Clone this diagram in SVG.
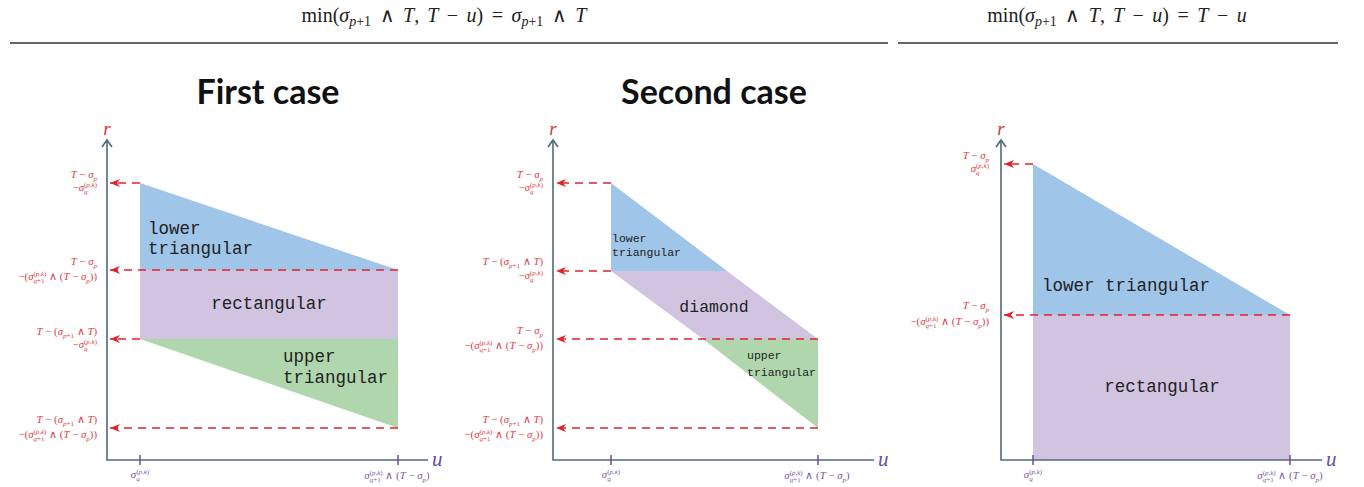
<svg xmlns="http://www.w3.org/2000/svg" width="1364" height="487" viewBox="0 0 1364 487">
<style>
.hd{font-family:"Liberation Serif",serif;font-size:20px;fill:#222}
.i{font-style:italic}
.w{font-family:"DejaVu Sans",sans-serif;font-weight:200;font-style:normal}
.lb{font-family:"Liberation Serif",serif;font-size:10.8px;fill:#e03a48;text-anchor:end}
.xl{font-family:"Liberation Serif",serif;font-size:10.8px;fill:#7a5aa8;text-anchor:middle}
.s{font-size:7px}
.mono{font-family:"Liberation Mono",monospace;fill:#222}
.title{font-family:Lato,sans-serif;font-weight:bold;font-size:34px;fill:#111;text-anchor:middle}
.axis{stroke:#50697b;stroke-width:1.6;fill:none}
.tick{stroke:#6a4c9c;stroke-width:1.5}
.dash{stroke:#e0232d;stroke-width:1.4;stroke-dasharray:8 6;fill:none;marker-end:url(#ah)}
.blue{fill:#9fc5e8}.purple{fill:#d0c4e1}.green{fill:#b0d6ae}
.rl{font-family:"Liberation Serif",serif;font-style:italic;font-size:19px;fill:#d9323e;text-anchor:middle}
.ul{font-family:"Liberation Serif",serif;font-style:italic;font-size:21px;fill:#6a4c9c}
.rule{stroke:#333;stroke-width:1.6}
</style>
<defs>
<marker id="ah" viewBox="0 0 10 8" refX="10" refY="4" markerWidth="10" markerHeight="8" markerUnits="userSpaceOnUse" orient="auto">
<path d="M0,0 L10,4 L0,8 L3,4 Z" fill="#e0232d"/>
</marker>
</defs>

<g id="header">
<text class="hd" x="444" y="22" text-anchor="middle">min(<tspan class="i">σ</tspan><tspan font-size="14" dy="4"><tspan class="i">p</tspan>+1</tspan><tspan dy="-4" dx="3.5"> </tspan><tspan class="w">∧</tspan><tspan dx="3.5"> </tspan><tspan class="i">T</tspan>,<tspan dx="3"> </tspan><tspan class="i">T</tspan><tspan dx="3.5"> </tspan>−<tspan dx="3.5"> </tspan><tspan class="i">u</tspan>)<tspan dx="3.5"> </tspan>=<tspan dx="3.5"> </tspan><tspan class="i">σ</tspan><tspan font-size="14" dy="4"><tspan class="i">p</tspan>+1</tspan><tspan dy="-4" dx="3.5"> </tspan><tspan class="w">∧</tspan><tspan dx="3.5"> </tspan><tspan class="i">T</tspan></text>
<line class="rule" x1="10" y1="43" x2="888" y2="43"/>
<text class="hd" x="1117" y="22" text-anchor="middle">min(<tspan class="i">σ</tspan><tspan font-size="14" dy="4"><tspan class="i">p</tspan>+1</tspan><tspan dy="-4" dx="3.5"> </tspan><tspan class="w">∧</tspan><tspan dx="3.5"> </tspan><tspan class="i">T</tspan>,<tspan dx="3"> </tspan><tspan class="i">T</tspan><tspan dx="3.5"> </tspan>−<tspan dx="3.5"> </tspan><tspan class="i">u</tspan>)<tspan dx="3.5"> </tspan>=<tspan dx="3.5"> </tspan><tspan class="i">T</tspan><tspan dx="3.5"> </tspan>−<tspan dx="3.5"> </tspan><tspan class="i">u</tspan></text>
<line class="rule" x1="898" y1="43" x2="1338" y2="43"/>
</g>

<!-- Panel 1 -->
<g id="panel1">
<text class="title" x="268" y="104">First case</text>
<g id="p1-lower"><polygon class="blue" points="140,183 398,270 140,270"/><text class="mono" font-size="17.5" x="148" y="234">lower</text><text class="mono" font-size="17.5" x="148" y="254">triangular</text></g>
<g id="p1-rect"><rect class="purple" x="140" y="270" width="258" height="69"/><text class="mono" font-size="17.5" x="269" y="309" text-anchor="middle">rectangular</text></g>
<g id="p1-upper"><polygon class="green" points="140,339 398,339 398,428"/><text class="mono" font-size="17.5" x="283" y="362">upper</text><text class="mono" font-size="17.5" x="283" y="383">triangular</text></g>
<g id="p1-axes">
<path class="axis" d="M107,140 V460 H428"/>
<path class="axis" d="M102,147 L107,140 L112,147"/>
<line class="tick" x1="140" y1="455" x2="140" y2="465"/>
<line class="tick" x1="398" y1="455" x2="398" y2="465"/>
<text class="rl" x="107" y="135">r</text>
<text class="ul" x="432" y="466">u</text>
</g>
<g id="p1-labels">
<text class="lb" x="97" y="178"><tspan class="i">T</tspan> − <tspan class="i">σ</tspan><tspan class="s i" dy="2.5">p</tspan></text>
<text class="lb" x="97" y="191">−<tspan class="i">σ</tspan><tspan class="s i" dy="2.5">q</tspan><tspan class="s" dx="-3.5" dy="-7">(<tspan class="i">p</tspan>,<tspan class="i">k</tspan>)</tspan></text>
<text class="lb" x="97" y="265"><tspan class="i">T</tspan> − <tspan class="i">σ</tspan><tspan class="s i" dy="2.5">p</tspan></text>
<text class="lb" x="97" y="280">−(<tspan class="i">σ</tspan><tspan class="s" dy="2.5"><tspan class="i">q</tspan>+1</tspan><tspan class="s" dx="-11" dy="-7">(<tspan class="i">p</tspan>,<tspan class="i">k</tspan>)</tspan><tspan dy="4.5"> <tspan class="w">∧</tspan> (<tspan class="i">T</tspan> − <tspan class="i">σ</tspan></tspan><tspan class="s i" dy="2.5">p</tspan><tspan dy="-2.5">))</tspan></text>
<text class="lb" x="97" y="335"><tspan class="i">T</tspan> − (<tspan class="i">σ</tspan><tspan class="s" dy="2.5"><tspan class="i">p</tspan>+1</tspan><tspan dy="-2.5"> <tspan class="w">∧</tspan> <tspan class="i">T</tspan>)</tspan></text>
<text class="lb" x="97" y="348">−<tspan class="i">σ</tspan><tspan class="s i" dy="2.5">q</tspan><tspan class="s" dx="-3.5" dy="-7">(<tspan class="i">p</tspan>,<tspan class="i">k</tspan>)</tspan></text>
<text class="lb" x="97" y="423"><tspan class="i">T</tspan> − (<tspan class="i">σ</tspan><tspan class="s" dy="2.5"><tspan class="i">p</tspan>+1</tspan><tspan dy="-2.5"> <tspan class="w">∧</tspan> <tspan class="i">T</tspan>)</tspan></text>
<text class="lb" x="97" y="438">−(<tspan class="i">σ</tspan><tspan class="s" dy="2.5"><tspan class="i">q</tspan>+1</tspan><tspan class="s" dx="-11" dy="-7">(<tspan class="i">p</tspan>,<tspan class="i">k</tspan>)</tspan><tspan dy="4.5"> <tspan class="w">∧</tspan> (<tspan class="i">T</tspan> − <tspan class="i">σ</tspan></tspan><tspan class="s i" dy="2.5">p</tspan><tspan dy="-2.5">))</tspan></text>
<text class="xl" x="140" y="478"><tspan class="i">σ</tspan><tspan class="s i" dy="2.5">q</tspan><tspan class="s" dx="-3.5" dy="-7">(<tspan class="i">p</tspan>,<tspan class="i">k</tspan>)</tspan></text>
<text class="xl" x="397" y="479"><tspan class="i">σ</tspan><tspan class="s" dy="2.5"><tspan class="i">q</tspan>+1</tspan><tspan class="s" dx="-11" dy="-7">(<tspan class="i">p</tspan>,<tspan class="i">k</tspan>)</tspan><tspan dy="4.5"> <tspan class="w">∧</tspan> (<tspan class="i">T</tspan> − <tspan class="i">σ</tspan></tspan><tspan class="s i" dy="2.5">p</tspan><tspan dy="-2.5">)</tspan></text>
</g>
</g>

<!-- Panel 2 -->
<g id="panel2">
<text class="title" x="714" y="104">Second case</text>
<g id="p2-lower"><polygon class="blue" points="611,183 727,271 611,271"/><text class="mono" font-size="11.5" x="612" y="242">lower</text><text class="mono" font-size="11.5" x="612" y="255.5">triangular</text></g>
<g id="p2-diamond"><polygon class="purple" points="611,271 727,271 818,339 703,339"/><text class="mono" font-size="16.5" x="714" y="312" text-anchor="middle">diamond</text></g>
<g id="p2-upper"><polygon class="green" points="703,339 818,339 818,428"/><text class="mono" font-size="11.5" x="747" y="359">upper</text><text class="mono" font-size="11.5" x="747" y="376">triangular</text></g>
<g id="p2-axes">
<path class="axis" d="M553,140 V460 H874"/>
<path class="axis" d="M548,147 L553,140 L558,147"/>
<line class="tick" x1="611" y1="455" x2="611" y2="465"/>
<line class="tick" x1="818" y1="455" x2="818" y2="465"/>
<text class="rl" x="553" y="135">r</text>
<text class="ul" x="878" y="466">u</text>
</g>
<g id="p2-labels">
<text class="lb" x="543" y="178"><tspan class="i">T</tspan> − <tspan class="i">σ</tspan><tspan class="s i" dy="2.5">p</tspan></text>
<text class="lb" x="543" y="191">−<tspan class="i">σ</tspan><tspan class="s i" dy="2.5">q</tspan><tspan class="s" dx="-3.5" dy="-7">(<tspan class="i">p</tspan>,<tspan class="i">k</tspan>)</tspan></text>
<text class="lb" x="543" y="265"><tspan class="i">T</tspan> − (<tspan class="i">σ</tspan><tspan class="s" dy="2.5"><tspan class="i">p</tspan>+1</tspan><tspan dy="-2.5"> <tspan class="w">∧</tspan> <tspan class="i">T</tspan>)</tspan></text>
<text class="lb" x="543" y="279">−<tspan class="i">σ</tspan><tspan class="s i" dy="2.5">q</tspan><tspan class="s" dx="-3.5" dy="-7">(<tspan class="i">p</tspan>,<tspan class="i">k</tspan>)</tspan></text>
<text class="lb" x="543" y="334"><tspan class="i">T</tspan> − <tspan class="i">σ</tspan><tspan class="s i" dy="2.5">p</tspan></text>
<text class="lb" x="543" y="349">−(<tspan class="i">σ</tspan><tspan class="s" dy="2.5"><tspan class="i">q</tspan>+1</tspan><tspan class="s" dx="-11" dy="-7">(<tspan class="i">p</tspan>,<tspan class="i">k</tspan>)</tspan><tspan dy="4.5"> <tspan class="w">∧</tspan> (<tspan class="i">T</tspan> − <tspan class="i">σ</tspan></tspan><tspan class="s i" dy="2.5">p</tspan><tspan dy="-2.5">))</tspan></text>
<text class="lb" x="543" y="423"><tspan class="i">T</tspan> − (<tspan class="i">σ</tspan><tspan class="s" dy="2.5"><tspan class="i">p</tspan>+1</tspan><tspan dy="-2.5"> <tspan class="w">∧</tspan> <tspan class="i">T</tspan>)</tspan></text>
<text class="lb" x="543" y="438">−(<tspan class="i">σ</tspan><tspan class="s" dy="2.5"><tspan class="i">q</tspan>+1</tspan><tspan class="s" dx="-11" dy="-7">(<tspan class="i">p</tspan>,<tspan class="i">k</tspan>)</tspan><tspan dy="4.5"> <tspan class="w">∧</tspan> (<tspan class="i">T</tspan> − <tspan class="i">σ</tspan></tspan><tspan class="s i" dy="2.5">p</tspan><tspan dy="-2.5">))</tspan></text>
<text class="xl" x="611" y="478"><tspan class="i">σ</tspan><tspan class="s i" dy="2.5">q</tspan><tspan class="s" dx="-3.5" dy="-7">(<tspan class="i">p</tspan>,<tspan class="i">k</tspan>)</tspan></text>
<text class="xl" x="817" y="479"><tspan class="i">σ</tspan><tspan class="s" dy="2.5"><tspan class="i">q</tspan>+1</tspan><tspan class="s" dx="-11" dy="-7">(<tspan class="i">p</tspan>,<tspan class="i">k</tspan>)</tspan><tspan dy="4.5"> <tspan class="w">∧</tspan> (<tspan class="i">T</tspan> − <tspan class="i">σ</tspan></tspan><tspan class="s i" dy="2.5">p</tspan><tspan dy="-2.5">)</tspan></text>
</g>
</g>

<!-- Panel 3 -->
<g id="panel3">
<g id="p3-lower"><polygon class="blue" points="1033,164 1290,315 1033,315"/><text class="mono" font-size="17.5" x="1126" y="291" text-anchor="middle">lower triangular</text></g>
<g id="p3-rect"><rect class="purple" x="1033" y="315" width="257" height="145"/><text class="mono" font-size="17.5" x="1162" y="392" text-anchor="middle">rectangular</text></g>
<g id="p3-axes">
<path class="axis" d="M1001,140 V460 H1322"/>
<path class="axis" d="M996,147 L1001,140 L1006,147"/>
<line class="tick" x1="1033" y1="455" x2="1033" y2="465"/>
<line class="tick" x1="1290" y1="455" x2="1290" y2="465"/>
<text class="rl" x="1001" y="135">r</text>
<text class="ul" x="1326" y="466">u</text>
</g>
<g id="p3-labels">
<text class="lb" x="989" y="159"><tspan class="i">T</tspan> − <tspan class="i">σ</tspan><tspan class="s i" dy="2.5">p</tspan></text>
<text class="lb" x="989" y="172"><tspan class="i">σ</tspan><tspan class="s i" dy="2.5">q</tspan><tspan class="s" dx="-3.5" dy="-7">(<tspan class="i">p</tspan>,<tspan class="i">k</tspan>)</tspan></text>
<text class="lb" x="989" y="309"><tspan class="i">T</tspan> − <tspan class="i">σ</tspan><tspan class="s i" dy="2.5">p</tspan></text>
<text class="lb" x="989" y="325">−(<tspan class="i">σ</tspan><tspan class="s" dy="2.5"><tspan class="i">q</tspan>+1</tspan><tspan class="s" dx="-11" dy="-7">(<tspan class="i">p</tspan>,<tspan class="i">k</tspan>)</tspan><tspan dy="4.5"> <tspan class="w">∧</tspan> (<tspan class="i">T</tspan> − <tspan class="i">σ</tspan></tspan><tspan class="s i" dy="2.5">p</tspan><tspan dy="-2.5">))</tspan></text>
<text class="xl" x="1033" y="478"><tspan class="i">σ</tspan><tspan class="s i" dy="2.5">q</tspan><tspan class="s" dx="-3.5" dy="-7">(<tspan class="i">p</tspan>,<tspan class="i">k</tspan>)</tspan></text>
<text class="xl" x="1290" y="479"><tspan class="i">σ</tspan><tspan class="s" dy="2.5"><tspan class="i">q</tspan>+1</tspan><tspan class="s" dx="-11" dy="-7">(<tspan class="i">p</tspan>,<tspan class="i">k</tspan>)</tspan><tspan dy="4.5"> <tspan class="w">∧</tspan> (<tspan class="i">T</tspan> − <tspan class="i">σ</tspan></tspan><tspan class="s i" dy="2.5">p</tspan><tspan dy="-2.5">)</tspan></text>
</g>
</g>

<g id="connectors">
<line class="dash" x1="140" y1="183" x2="110" y2="183"/>
<line class="dash" x1="398" y1="270" x2="110" y2="270"/>
<line class="dash" x1="140" y1="339" x2="110" y2="339"/>
<line class="dash" x1="398" y1="428" x2="110" y2="428"/>
<line class="dash" x1="611" y1="183" x2="556" y2="183"/>
<line class="dash" x1="611" y1="271" x2="556" y2="271"/>
<line class="dash" x1="818" y1="339" x2="556" y2="339"/>
<line class="dash" x1="818" y1="428" x2="556" y2="428"/>
<line class="dash" x1="1033" y1="164" x2="1004" y2="164"/>
<line class="dash" x1="1290" y1="315" x2="1004" y2="315"/>
</g>
</svg>
